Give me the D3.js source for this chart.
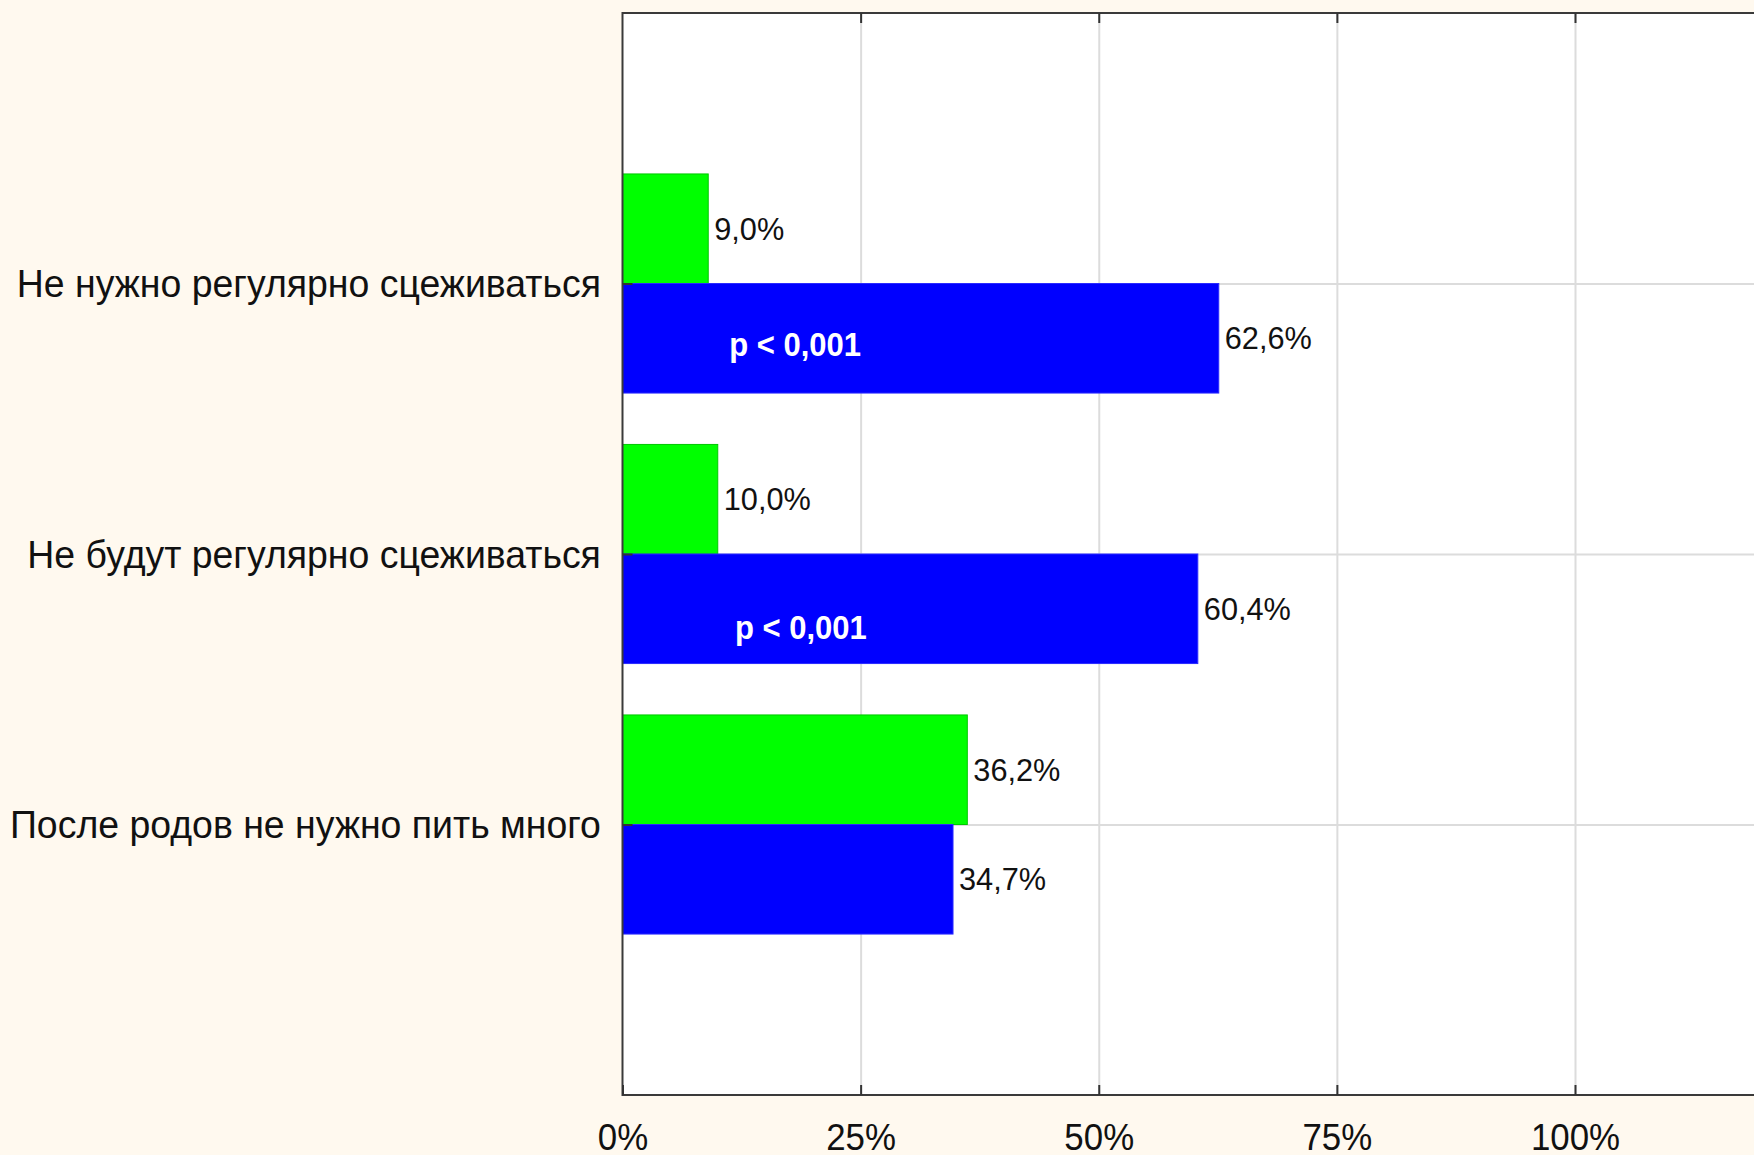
<!DOCTYPE html>
<html>
<head>
<meta charset="utf-8">
<script src="https://cdn.jsdelivr.net/npm/d3@7/dist/d3.min.js"></script>
<style>
  body { margin: 0; background: #fff9ef; }
  svg { display: block; font-family: "Liberation Sans", Arial, sans-serif; }
  .grid line { stroke: #dcdcdc; stroke-width: 2; }
  .grid path { display: none; }
  .axis path { display: none; }
  .axis line { stroke: #333; stroke-width: 2; }
</style>
</head>
<body>
<svg id="chart" width="1754" height="1155"></svg>
<script>
// data
const categories = [
  "Не нужно регулярно сцеживаться",
  "Не будут регулярно сцеживаться",
  "После родов не нужно пить много"
];
const greenValues = [9.0, 10.0, 36.2];
const blueValues = [62.6, 60.4, 34.7];
const xTicks = [0, 25, 50, 75, 100];
const pLabels = ["p < 0,001", "p < 0,001", ""];
const pLabelX = [11.2, 11.8, 0];      // in % along x
const pLabelDy = [0.226, 0.272, 0];   // offset below the category line, in category units

const fmt = v => v.toFixed(1).replace(".", ",") + "%";

const svg = d3.select("#chart");
const margin = {top: 13, left: 622.5};
const bottom = 1095;

const x = d3.scaleLinear().domain([0, 100]).range([margin.left, 1575]);
const y = d3.scaleLinear().domain([0, 4]).range([margin.top, bottom]);
const barH = y(0.405) - y(0);

// plot background
svg.append("rect")
  .attr("x", x(0)).attr("y", y(0))
  .attr("width", x(130) - x(0)).attr("height", y(4) - y(0))
  .attr("fill", "#fff");

// grid
svg.append("g").attr("class", "grid")
  .attr("transform", `translate(0,${bottom})`)
  .call(d3.axisBottom(x).tickValues(xTicks.slice(1)).tickSize(-(bottom - margin.top)).tickFormat(""));
svg.append("g").attr("class", "grid")
  .attr("transform", `translate(${x(0)},0)`)
  .call(d3.axisLeft(y).tickValues([1, 2, 3]).tickSize(-(x(130) - x(0))).tickFormat(""));

const rows = categories.map((c, i) => ({c, i, g: greenValues[i], b: blueValues[i]}));

// green bars (above the category line)
svg.selectAll(".bar-g").data(rows).enter().append("rect")
  .attr("class", "bar-g")
  .attr("x", x(0))
  .attr("y", d => y(d.i + 1) - barH)
  .attr("width", d => x(d.g) - x(0))
  .attr("height", barH)
  .attr("fill", "#00ff00")
  .attr("stroke", "#00c800").attr("stroke-width", 1);

// blue bars (below)
svg.selectAll(".bar-b").data(rows).enter().append("rect")
  .attr("class", "bar-b")
  .attr("x", x(0))
  .attr("y", d => y(d.i + 1))
  .attr("width", d => x(d.b) - x(0))
  .attr("height", barH)
  .attr("fill", "#0000ff")
  .attr("stroke", "#2a2aff").attr("stroke-width", 1);

// value labels
const valFont = 32, valScale = 0.96;
function valueLabel(cls, accessor, yMid) {
  svg.selectAll("." + cls).data(rows).enter().append("text")
    .attr("class", cls)
    .attr("transform", d => `translate(${x(accessor(d)) + 6},${yMid(d) + valFont * 0.34}) scale(${valScale},1)`)
    .attr("font-size", valFont)
    .attr("fill", "#111")
    .text(d => fmt(accessor(d)));
}
valueLabel("val-g", d => d.g, d => y(d.i + 1) - barH / 2);
valueLabel("val-b", d => d.b, d => y(d.i + 1) + barH / 2);

// p-value annotations
svg.selectAll(".pval").data(rows.filter(d => pLabels[d.i])).enter().append("text")
  .attr("class", "pval")
  .attr("transform", d => `translate(${x(pLabelX[d.i])},${y(d.i + 1 + pLabelDy[d.i]) + 11}) scale(0.94,1)`)
  .attr("font-size", 33)
  .attr("font-weight", "bold")
  .attr("fill", "#fff")
  .text(d => pLabels[d.i]);

// frame
svg.append("rect")
  .attr("x", x(0)).attr("y", y(0))
  .attr("width", x(130) - x(0)).attr("height", y(4) - y(0))
  .attr("fill", "none").attr("stroke", "#3a3a3a").attr("stroke-width", 2);

// bottom axis: inward ticks and labels
const xAxisG = svg.append("g").attr("class", "axis")
  .attr("transform", `translate(0,${bottom})`)
  .call(d3.axisBottom(x).tickValues(xTicks).tickSizeInner(-10).tickSizeOuter(0)
    .tickPadding(28).tickFormat(d => d + "%"));
xAxisG.selectAll("text")
  .attr("font-size", 37.5)
  .attr("fill", "#111")
  .attr("transform", "scale(0.93,1)");

// top axis ticks
svg.append("g").attr("class", "axis")
  .attr("transform", `translate(0,${y(0)})`)
  .call(d3.axisTop(x).tickValues(xTicks.slice(1)).tickSizeInner(-10).tickSizeOuter(0).tickFormat(""));

// left axis: category labels
const yAxisG = svg.append("g").attr("class", "axis")
  .attr("transform", `translate(${x(0)},0)`)
  .call(d3.axisLeft(y).tickValues([1, 2, 3]).tickSizeInner(-10).tickSizeOuter(0)
    .tickPadding(22.5).tickFormat(d => categories[d - 1]));
yAxisG.selectAll("text")
  .attr("font-size", 39)
  .attr("fill", "#111")
  .attr("dy", "0.34em")
  .attr("transform", "scale(0.96,1)");
</script>
</body>
</html>
